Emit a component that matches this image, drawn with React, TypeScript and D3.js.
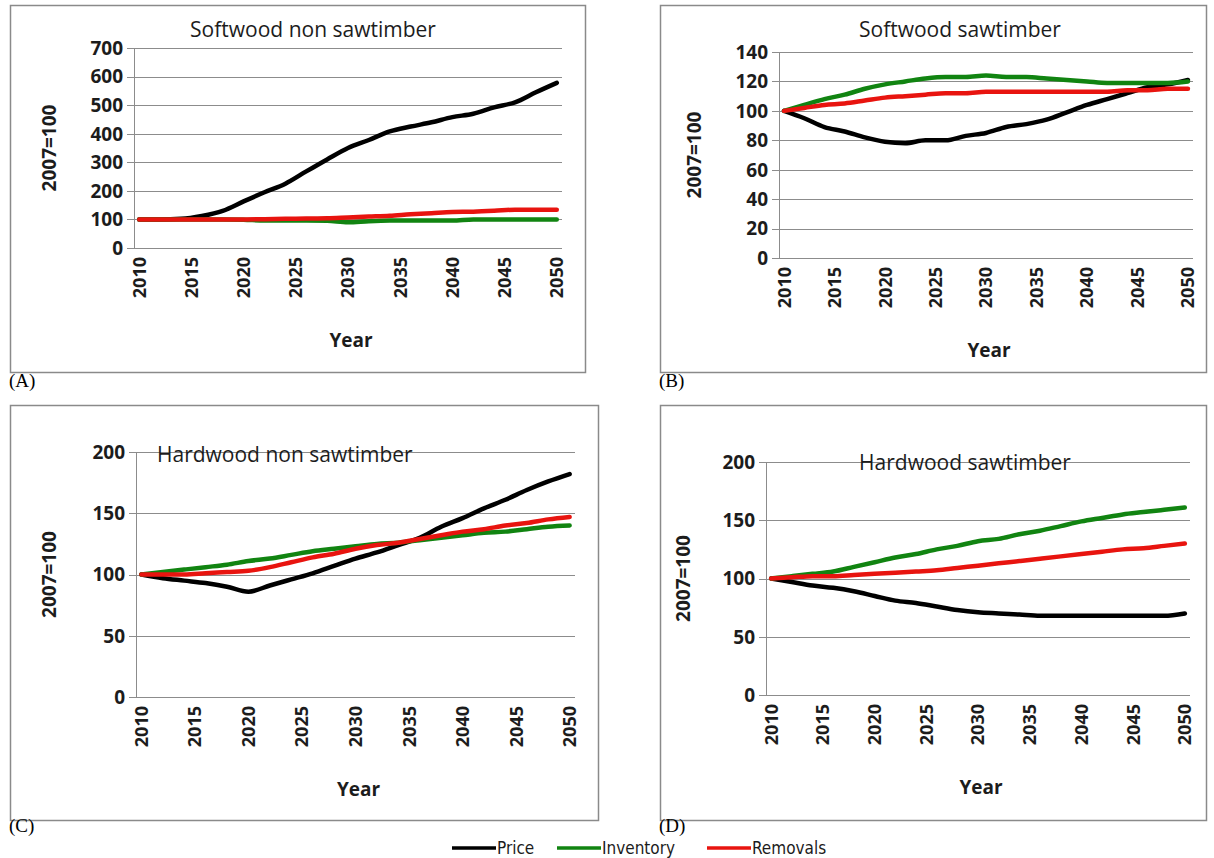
import { useEffect, useRef } from 'react';
import * as d3 from 'd3';

const years = [2010, 2012, 2014, 2016, 2018, 2020, 2022, 2024, 2026, 2028, 2030, 2032, 2034, 2036, 2038, 2040, 2042, 2044, 2046, 2048, 2050];
const yearTicks = [2010, 2015, 2020, 2025, 2030, 2035, 2040, 2045, 2050];

// (A) Softwood non sawtimber
const aPrice = [100, 100, 102, 112, 130, 163, 195, 225, 268, 310, 350, 378, 408, 425, 440, 458, 470, 492, 510, 545, 578];
const aInventory = [100, 100, 100, 100, 100, 99, 96, 96, 96, 95, 90, 94, 96, 96, 96, 96, 100, 100, 100, 100, 100];
const aRemovals = [100, 100, 100, 100, 100, 100, 101, 102, 103, 104, 107, 110, 113, 118, 122, 126, 127, 130, 134, 134, 134];

// (B) Softwood sawtimber
const bPrice = [100, 95, 89, 86, 82, 79, 78, 80, 80, 83, 85, 89, 91, 94, 99, 104, 108, 112, 116, 118, 121];
const bInventory = [100, 104, 108, 111, 115, 118, 120, 122, 123, 123, 124, 123, 123, 122, 121, 120, 119, 119, 119, 119, 120];
const bRemovals = [100, 102, 104, 105, 107, 109, 110, 111, 112, 112, 113, 113, 113, 113, 113, 113, 113, 114, 114, 115, 115];

// (C) Hardwood non sawtimber
const cPrice = [100, 97, 95, 93, 90, 86, 91, 96, 101, 107, 113, 118, 124, 130, 139, 146, 154, 161, 169, 176, 182];
const cInventory = [100, 102, 104, 106, 108, 111, 113, 116, 119, 121, 123, 125, 126, 128, 130, 132, 134, 135, 137, 139, 140];
const cRemovals = [100, 100, 100, 101, 102, 103, 106, 110, 114, 117, 121, 124, 126, 129, 132, 135, 137, 140, 142, 145, 147];

// (D) Hardwood sawtimber
const dPrice = [100, 97, 94, 92, 89, 85, 81, 79, 76, 73, 71, 70, 69, 68, 68, 68, 68, 68, 68, 68, 70];
const dInventory = [100, 102, 104, 106, 110, 114, 118, 121, 125, 128, 132, 134, 138, 141, 145, 149, 152, 155, 157, 159, 161];
const dRemovals = [100, 101, 102, 102, 103, 104, 105, 106, 107, 109, 111, 113, 115, 117, 119, 121, 123, 125, 126, 128, 130];

const seriesNames = ['Price', 'Inventory', 'Removals'];
const seriesColors = ['#000000', '#118411', '#e8140f'];

const panels = [
  { label: '(A)', title: 'Softwood non sawtimber', frame: [10, 5, 585, 372], left: 134, right: 562, bottom: 248, top: 48,
    yTicks: [0, 100, 200, 300, 400, 500, 600, 700], titleX: 313, titleY: 37, titleAnchor: 'middle', yTitleX: 49,
    labelY: 387, series: [aPrice, aInventory, aRemovals] },
  { label: '(B)', title: 'Softwood sawtimber', frame: [660, 5, 1206, 372], left: 779, right: 1193, bottom: 258, top: 52,
    yTicks: [0, 20, 40, 60, 80, 100, 120, 140], titleX: 960, titleY: 37, titleAnchor: 'middle', yTitleX: 694,
    labelY: 387, series: [bPrice, bInventory, bRemovals] },
  { label: '(C)', title: 'Hardwood non sawtimber', frame: [10, 405, 598, 820], left: 136, right: 575, bottom: 697, top: 452,
    yTicks: [0, 50, 100, 150, 200], titleX: 157, titleY: 462, titleAnchor: 'start', yTitleX: 49,
    labelY: 832, series: [cPrice, cInventory, cRemovals] },
  { label: '(D)', title: 'Hardwood sawtimber', frame: [660, 405, 1206, 820], left: 766, right: 1190, bottom: 695, top: 462,
    yTicks: [0, 50, 100, 150, 200], titleX: 965, titleY: 470, titleAnchor: 'middle', yTitleX: 683,
    labelY: 832, series: [dPrice, dInventory, dRemovals] },
];

const font = '"Open Sans", Lato, sans-serif';
const ink = '#1c1c1c';

export default function App() {
  const svgRef = useRef(null);

  useEffect(() => {
    const svg = d3.select(svgRef.current);
    svg.selectAll('*').remove();

    panels.forEach(p => {
      const g = svg.append('g');
      const [fx0, fy0, fx1, fy1] = p.frame;

      g.append('rect')
        .attr('x', fx0 + 0.5).attr('y', fy0 + 0.5)
        .attr('width', fx1 - fx0).attr('height', fy1 - fy0)
        .attr('fill', '#fff')
        .attr('stroke', '#8a8a8a')
        .attr('stroke-width', 1.5);

      const x = d3.scaleLinear().domain([2009.5, 2050.5]).range([p.left, p.right]);
      const yMax = p.yTicks[p.yTicks.length - 1];
      const y = d3.scaleLinear().domain([0, yMax]).range([p.bottom, p.top]);

      // Grid lines with outward ticks
      g.append('g')
        .selectAll('line')
        .data(p.yTicks)
        .join('line')
        .attr('x1', p.left - 7).attr('x2', p.right)
        .attr('y1', d => Math.round(y(d)) + 0.5).attr('y2', d => Math.round(y(d)) + 0.5)
        .attr('stroke', '#8c8c8c')
        .attr('stroke-width', 1);

      // Y axis line
      g.append('line')
        .attr('x1', p.left + 0.5).attr('x2', p.left + 0.5)
        .attr('y1', p.top).attr('y2', p.bottom)
        .attr('stroke', '#8c8c8c');

      // Y tick labels
      g.append('g')
        .selectAll('text')
        .data(p.yTicks)
        .join('text')
        .attr('x', p.left - 11)
        .attr('y', d => y(d))
        .attr('dy', '0.36em')
        .attr('text-anchor', 'end')
        .attr('font-family', font)
        .attr('font-weight', 'bold')
        .attr('font-size', 19)
        .attr('fill', ink)
        .text(d => d);

      // X tick labels, rotated
      g.append('g')
        .selectAll('text')
        .data(yearTicks)
        .join('text')
        .attr('transform', d => `translate(${x(d)},${p.bottom + 9}) rotate(-90)`)
        .attr('dy', '0.36em')
        .attr('text-anchor', 'end')
        .attr('font-family', font)
        .attr('font-weight', 'bold')
        .attr('font-size', 18)
        .attr('fill', ink)
        .text(d => d);

      // Axis titles
      g.append('text')
        .attr('transform', `translate(${p.yTitleX},${(p.top + p.bottom) / 2}) rotate(-90)`)
        .attr('dy', '0.36em')
        .attr('text-anchor', 'middle')
        .attr('font-family', font)
        .attr('font-weight', 'bold')
        .attr('font-size', 19)
        .attr('fill', ink)
        .text('2007=100');

      g.append('text')
        .attr('x', (p.left + p.right) / 2 + 3)
        .attr('y', p.bottom + 99)
        .attr('text-anchor', 'middle')
        .attr('font-family', font)
        .attr('font-weight', 'bold')
        .attr('font-size', 19)
        .attr('fill', ink)
        .text('Year');

      g.append('text')
        .attr('x', p.titleX)
        .attr('y', p.titleY)
        .attr('text-anchor', p.titleAnchor)
        .attr('font-family', font)
        .attr('font-size', 21)
        .attr('fill', ink)
        .text(p.title);

      // Lines
      const line = d3.line()
        .x((d, i) => x(years[i]))
        .y(d => y(d))
        .curve(d3.curveMonotoneX);

      p.series.forEach((s, i) => {
        g.append('path')
          .datum(s)
          .attr('fill', 'none')
          .attr('stroke', seriesColors[i])
          .attr('stroke-width', 4.5)
          .attr('stroke-linecap', 'round')
          .attr('stroke-linejoin', 'round')
          .attr('d', line);
      });

      // Panel label
      svg.append('text')
        .attr('x', fx0 - 1)
        .attr('y', p.labelY)
        .attr('font-family', '"Liberation Serif", "Times New Roman", serif')
        .attr('font-size', 19)
        .attr('fill', '#000')
        .text(p.label);
    });

    // Legend
    const legendX = [452, 557, 707];
    const lg = svg.append('g');
    seriesNames.forEach((name, i) => {
      lg.append('line')
        .attr('x1', legendX[i]).attr('x2', legendX[i] + 44)
        .attr('y1', 848).attr('y2', 848)
        .attr('stroke', seriesColors[i])
        .attr('stroke-width', 3.5);
      lg.append('text')
        .attr('x', legendX[i] + 45)
        .attr('y', 854)
        .attr('font-family', '"Liberation Sans Narrow", "DejaVu Sans Condensed", sans-serif')
        .attr('font-size', 17)
        .attr('fill', ink)
        .text(name);
    });
  }, []);

  return (
    <div style={{ position: 'absolute', left: 0, top: 0 }}>
      <svg ref={svgRef} width={1214} height={858} style={{ display: 'block', background: '#fff' }} />
    </div>
  );
}
